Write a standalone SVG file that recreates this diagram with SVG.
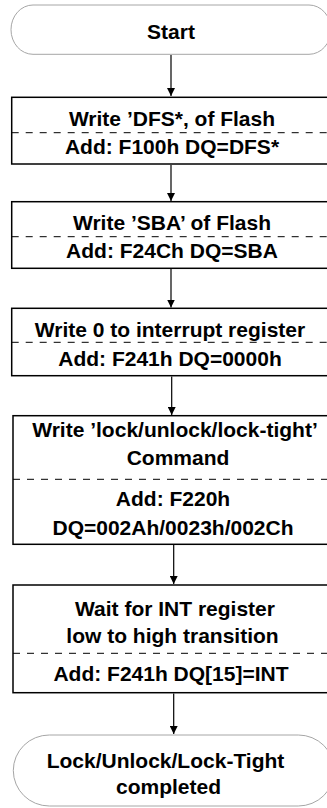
<svg xmlns="http://www.w3.org/2000/svg" width="327" height="808" viewBox="0 0 327 808">
<defs>
<style>
.term{fill:#fff;stroke:#a6a6a6;stroke-width:1}
.box{fill:#fff;stroke:#000;stroke-width:1.5}
.dash{stroke:#000;stroke-width:1;stroke-dasharray:7 7;fill:none}
.t{font-family:"Liberation Sans",Arial,sans-serif;font-weight:bold;font-size:21px;fill:#000;text-anchor:middle}
.conn{stroke:#000;stroke-width:1.2;fill:none;marker-end:url(#ah)}
</style>
<marker id="ah" viewBox="0 0 10 10" refX="10" refY="5" markerWidth="8" markerHeight="8" markerUnits="userSpaceOnUse" orient="auto">
<path d="M0,0 L10,5 L0,10 z" fill="#000"/>
</marker>
</defs>
<rect width="327" height="808" fill="#fff"/>
<g id="connectors">
<line class="conn" x1="171" y1="55" x2="171" y2="96"/>
<line class="conn" x1="171" y1="165" x2="171" y2="201"/>
<line class="conn" x1="171" y1="269" x2="171" y2="307.5"/>
<line class="conn" x1="171.7" y1="376.5" x2="171.7" y2="415"/>
<line class="conn" x1="173.7" y1="545" x2="173.7" y2="584"/>
<line class="conn" x1="173.7" y1="693.5" x2="173.7" y2="734"/>
</g>
<g id="start">
<rect class="term" x="11" y="5" width="320" height="49.3" rx="22" ry="24.6"/>
<text class="t" x="171" y="39">Start</text>
</g>
<g id="step1">
<rect class="box" x="11.7" y="97.3" width="330" height="66.7"/>
<line class="dash" x1="11.7" y1="132.7" x2="327" y2="132.7"/>
<text class="t" x="172" y="126">Write ’DFS*, of Flash</text>
<text class="t" x="172" y="154">Add: F100h DQ=DFS*</text>
</g>
<g id="step2">
<rect class="box" x="11.7" y="201.7" width="330" height="66.6"/>
<line class="dash" x1="11.7" y1="236.7" x2="327" y2="236.7"/>
<text class="t" x="172" y="230">Write ’SBA’ of Flash</text>
<text class="t" x="172" y="258">Add: F24Ch DQ=SBA</text>
</g>
<g id="step3">
<rect class="box" x="11.7" y="308.3" width="330" height="67.4"/>
<line class="dash" x1="11.7" y1="342.3" x2="327" y2="342.3"/>
<text class="t" x="170" y="337">Write 0 to interrupt register</text>
<text class="t" x="170" y="366">Add: F241h DQ=0000h</text>
</g>
<g id="step4">
<rect class="box" x="13" y="415.7" width="330" height="128.6"/>
<line class="dash" x1="13" y1="479.3" x2="327" y2="479.3"/>
<text class="t" x="175" y="436.5">Write ’lock/unlock/lock-tight’</text>
<text class="t" x="178" y="464.5">Command</text>
<text class="t" x="173" y="506">Add: F220h</text>
<text class="t" x="173" y="535">DQ=002Ah/0023h/002Ch</text>
</g>
<g id="step5">
<rect class="box" x="13" y="585" width="330" height="107.7"/>
<line class="dash" x1="13" y1="653.3" x2="327" y2="653.3"/>
<text class="t" x="175" y="616">Wait for INT register</text>
<text class="t" x="172.5" y="642.5">low to high transition</text>
<text class="t" x="171" y="681">Add: F241h DQ[15]=INT</text>
</g>
<g id="end">
<rect class="term" x="13.3" y="735" width="321" height="71" rx="36" ry="35.5"/>
<text class="t" x="165.5" y="767.5">Lock/Unlock/Lock-Tight</text>
<text class="t" x="168.5" y="794">completed</text>
</g>
</svg>
